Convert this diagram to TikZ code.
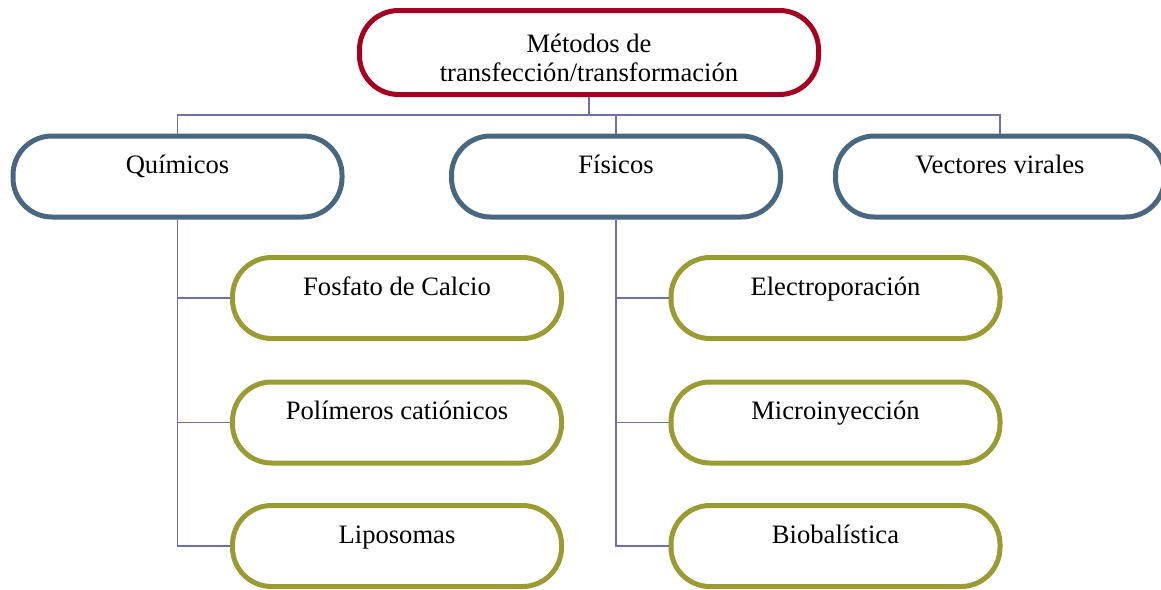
\documentclass[tikz,border=0pt]{standalone}
\usepackage{fontspec}
\setmainfont{Liberation Serif}
\definecolor{mtred}{RGB}{165,0,33}
\definecolor{mtslate}{RGB}{73,104,128}
\definecolor{mtolive}{RGB}{155,155,52}
\definecolor{mtline}{RGB}{112,112,168}
\usetikzlibrary{positioning}

\begin{document}
\begin{tikzpicture}[
    x=0.5pt, y=-0.5pt,
    pill/.style={rectangle, rounded corners=19.5pt, line width=2.5pt, fill=white,
                 inner sep=0pt, minimum width=164.5pt,
                 text height=18.75pt, text depth=21.75pt,
                 font=\fontsize{13.3}{14.5}\selectfont},
    rootbox/.style={pill, draw=mtred, minimum width=229.5pt, align=center,
                    text height=35.25pt, text depth=6.75pt},
    groupbox/.style={pill, draw=mtslate},
    methodbox/.style={pill, draw=mtolive},
    conn/.style={draw=mtline, line width=0.9pt}
  ]
    \useasboundingbox (0,0) rectangle (1161,589);

    % Root
    \node[rootbox] (root) at (589,52.5) {Métodos de\\transfección/transformación};

    % Groups
    \node[groupbox] (quim) at (177.5,176.5) {Químicos};
    \node[groupbox] (fis) at (616,176.5) {Físicos};
    \node[groupbox] (vir) at (1000,176.5) {Vectores virales};

    % Methods
    \node[methodbox] (fosf) at (397,298) {Fosfato de Calcio};
    \node[methodbox] (poli) at (397,422.5) {Polímeros catiónicos};
    \node[methodbox] (lipo) at (397,546) {Liposomas};
    \node[methodbox] (elec) at (835.5,298) {Electroporación};
    \node[methodbox] (micro) at (835.5,422.5) {Microinyección};
    \node[methodbox] (bio) at (835.5,546) {Biobalística};

    % Connectors
    \coordinate (bus) at (589,115);
    \draw[conn] (root.south) -- (bus);
    \draw[conn] (quim.north) |- (bus) -| (vir.north);
    \draw[conn] (fis.north) -- (fis.north |- bus);
    \foreach \m in {fosf,poli,lipo}
      \draw[conn] (quim.south) |- (\m.west);
    \foreach \m in {elec,micro,bio}
      \draw[conn] (fis.south) |- (\m.west);
  \end{tikzpicture}
\end{document}
